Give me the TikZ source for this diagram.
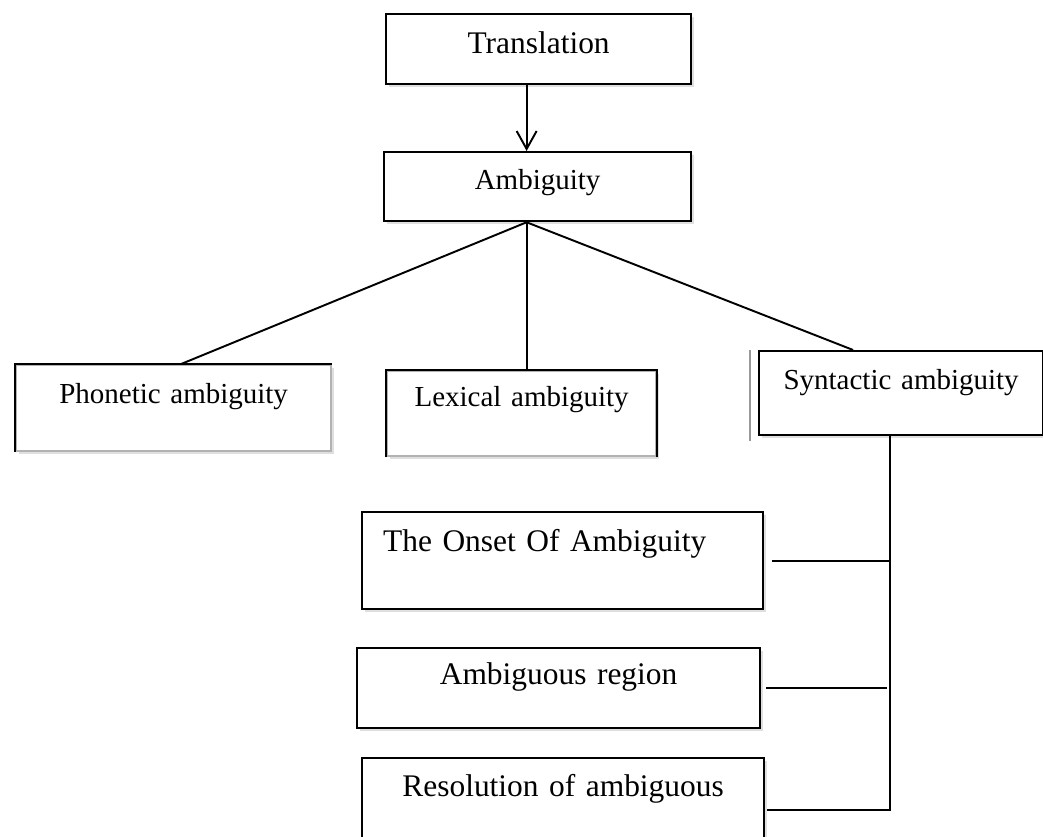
\documentclass[tikz,border=0pt]{standalone}
\usepackage{fontspec}
\setmainfont{Liberation Serif}
\usetikzlibrary{arrows.meta,shadows}
\tikzset{
  box/.style={draw, fill=white, line width=1.3pt, anchor=north west, inner xsep=0pt, inner ysep=0pt,
    align=center, font=\fontsize{16.5}{19}\selectfont,
    drop shadow={shadow xshift=0.05cm, shadow yshift=-0.06cm, opacity=0.25}},
  bigbox/.style={box, font=\fontsize{17.9}{21}\selectfont},
  softbox/.style={box, draw=black!30},
  edge/.style={line width=1.3pt},
  link/.style={line width=1.1pt},
}
\begin{document}
\begin{tikzpicture}[x=0.02cm, y=-0.02cm]
	\useasboundingbox (0,0) rectangle (1043,837);
	\node[bigbox, text width=6.10cm, text height=0.78cm, text depth=0.62cm] (trans) at (385,13) {Translation};
	\node[box, text width=6.14cm, text height=0.74cm, text depth=0.64cm] (amb) at (383,151) {Ambiguity};
	\node[softbox, text width=6.30cm, text height=0.76cm, text depth=0.96cm] (phon) at (15,364) {Phonetic ambiguity};
	\node[softbox, text width=5.38cm, text height=0.70cm, text depth=1.00cm] (lex) at (386,370) {Lexical ambiguity};
	\node[box, text width=5.68cm, text height=0.76cm, text depth=0.92cm] (syn) at (758,350) {Syntactic ambiguity};
	\node[bigbox, align=left, inner xsep=0.42cm, text width=7.18cm, text height=0.78cm, text depth=1.16cm] (onset) at (361,511) {The Onset Of Ambiguity};
	\node[bigbox, text width=8.06cm, text height=0.72cm, text depth=0.88cm] (region) at (356,647) {Ambiguous region};
	\node[bigbox, text width=8.04cm, text height=0.76cm, text depth=1.30cm] (res) at (361,757) {Resolution of ambiguous};
	\draw[edge] (phon.south west) -- (phon.north west) -- (phon.north east);
	\draw[edge] (lex.south west) -- (lex.north west) -- (lex.north east) -- (lex.south east);
	\draw[black!40, line width=0.6pt] ([xshift=-0.16cm]syn.north west) -- ([xshift=-0.16cm, yshift=-0.1cm]syn.south west);
	\coordinate (fork) at ([xshift=-0.22cm]amb.south);
	\coordinate (spine) at ([xshift=-0.22cm]syn.south);
	\draw[link, -{Straight Barb[length=3.6mm, width=4mm]}] (trans.south -| fork) -- (amb.north -| fork);
	\draw[link] (fork) -- ([xshift=0.15cm]phon.north);
	\draw[link] (fork) -- (lex.north -| fork);
	\draw[link] (fork) -- ([xshift=-0.96cm]syn.north);
	\draw[link] (spine) -- (spine |- res.east) -- ([xshift=0.04cm]res.east);
	\draw[link] ([xshift=0.16cm]onset.east) -- (onset.east -| spine);
	\draw[link] ([xshift=0.1cm]region.east) -- ([xshift=-0.06cm]region.east -| spine);
\end{tikzpicture}
\end{document}
